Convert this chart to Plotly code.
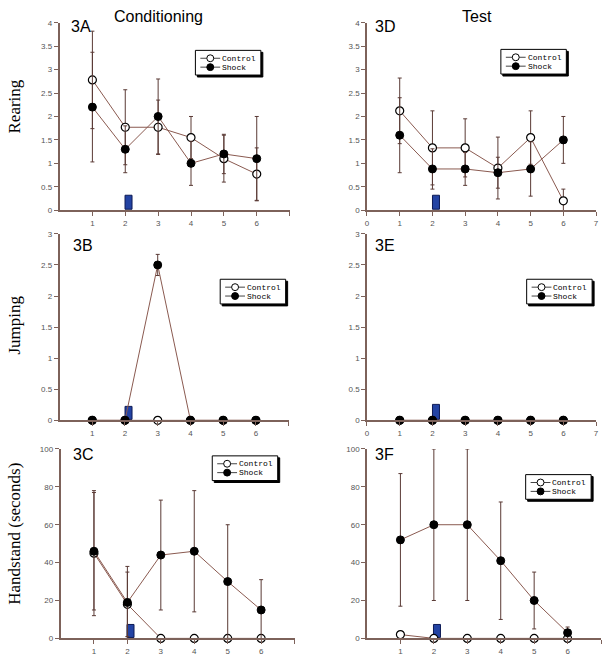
import plotly.graph_objects as go

# ---------------- data ----------------
sessions = [1, 2, 3, 4, 5, 6]

rear_cond_ctrl = [2.78, 1.77, 1.77, 1.55, 1.10, 0.77]
rear_cond_ctrl_err = [1.04, 0.80, 0.58, 0.45, 0.50, 0.56]
rear_cond_shock = [2.20, 1.30, 2.00, 1.00, 1.20, 1.10]
rear_cond_shock_err = [1.17, 0.50, 0.80, 0.47, 0.42, 0.90]

rear_test_ctrl = [2.12, 1.33, 1.33, 0.90, 1.55, 0.20]
rear_test_ctrl_err = [0.70, 0.79, 0.62, 0.66, 0.57, 0.25]
rear_test_shock = [1.60, 0.88, 0.88, 0.80, 0.88, 1.50]
rear_test_shock_err = [0.80, 0.43, 0.35, 0.33, 0.58, 0.50]

jump_cond_ctrl = [0, 0, 0, 0, 0, 0]
jump_cond_ctrl_err = [0, 0, 0, 0, 0, 0]
jump_cond_shock = [0, 0, 2.5, 0, 0, 0]
jump_cond_shock_err = [0, 0, 0.17, 0, 0, 0]

jump_test_ctrl = [0, 0, 0, 0, 0, 0]
jump_test_ctrl_err = [0, 0, 0, 0, 0, 0]
jump_test_shock = [0, 0, 0, 0, 0, 0]
jump_test_shock_err = [0, 0, 0, 0, 0, 0]

hand_cond_ctrl = [45, 18, 0, 0, 0, 0]
hand_cond_ctrl_err = [33, 17, 0, 0, 0, 0]
hand_cond_shock = [46, 19, 44, 46, 30, 15]
hand_cond_shock_err = [31, 19, 29, 32, 30, 16]

hand_test_ctrl = [2, 0, 0, 0, 0, 0]
hand_test_ctrl_err = [0, 0, 0, 0, 0, 0]
hand_test_shock = [52, 60, 60, 41, 20, 3]
hand_test_shock_err = [35, 40, 40, 31, 15, 3]

shock_session = [2.12]
shock_marker_height = {"A": 0.3, "B": 0.22, "C": 7, "D": 0.3, "E": 0.25, "F": 7}

panel_labels = ["3A", "3B", "3C", "3D", "3E", "3F"]
column_titles = ["Conditioning", "Test"]
row_titles = ["Rearing", "Jumping", "Handstand (seconds)"]
legend_labels = ["Control", "Shock"]

rear_ticks = [0, 0.5, 1, 1.5, 2, 2.5, 3, 3.5, 4]
jump_ticks = [0, 0.5, 1, 1.5, 2, 2.5, 3]
hand_ticks = [0, 20, 40, 60, 80, 100]

# ---------------- layout helpers ----------------
W, H = 609, 672


def px(x):
    return x / W


def py(y):
    return 1 - y / H


BROWN = "#8a5a50"
AXIS = "#7d625a"
ERR = "#5a3a35"
TICKFONT = dict(family="Liberation Sans, Arial", size=8, color="#555555")

panels = [
    ("A", rear_cond_ctrl, rear_cond_ctrl_err, rear_cond_shock, rear_cond_shock_err,
     (58, 290), (19, 209), [0, 4], rear_ticks, False),
    ("B", jump_cond_ctrl, jump_cond_ctrl_err, jump_cond_shock, jump_cond_shock_err,
     (58, 289), (233, 422), [0, 3], jump_ticks, False),
    ("C", hand_cond_ctrl, hand_cond_ctrl_err, hand_cond_shock, hand_cond_shock_err,
     (59, 295), (451, 643), [0, 100], hand_ticks, False),
    ("D", rear_test_ctrl, rear_test_ctrl_err, rear_test_shock, rear_test_shock_err,
     (368, 599), (19, 209), [0, 4], rear_ticks, True),
    ("E", jump_test_ctrl, jump_test_ctrl_err, jump_test_shock, jump_test_shock_err,
     (368, 599), (233, 422), [0, 3], jump_ticks, True),
    ("F", hand_test_ctrl, hand_test_ctrl_err, hand_test_shock, hand_test_shock_err,
     (368, 604), (451, 643), [0, 100], hand_ticks, False),
]

legend_boxes = {
    "A": (195, 47), "B": (220, 279), "C": (212, 458),
    "D": (503, 46), "E": (529, 279), "F": (528, 477),
}
label_pos = {
    "A": (68, 23), "B": (70, 245), "C": (70, 457),
    "D": (374, 23), "E": (374, 245), "F": (374, 457),
}

fig = go.Figure()
layout = dict(
    width=W, height=H, margin=dict(l=0, r=0, t=0, b=0),
    paper_bgcolor="white", plot_bgcolor="white", showlegend=False,
    bargap=0,
)
shapes = []
annotations = []

for i, (key, ctrl, cerr, shock, serr, xp, yp, yr, yt, full_x) in enumerate(panels):
    n = i + 1
    xa = "x" if n == 1 else f"x{n}"
    ya = "y" if n == 1 else f"y{n}"
    xname = "xaxis" if n == 1 else f"xaxis{n}"
    yname = "yaxis" if n == 1 else f"yaxis{n}"

    fig.add_trace(go.Bar(
        x=shock_session, y=[shock_marker_height[key]], width=0.21,
        marker=dict(color="#2343a3", line=dict(color="#0d1a55", width=1)),
        xaxis=xa, yaxis=ya, hoverinfo="skip",
    ))
    fig.add_trace(go.Scatter(
        x=sessions, y=ctrl, mode="lines+markers", name=legend_labels[0],
        line=dict(color=BROWN, width=1),
        marker=dict(symbol="circle", size=8, color="white",
                    line=dict(color="black", width=1.2)),
        error_y=dict(type="data", array=cerr, color=ERR, thickness=1, width=2),
        cliponaxis=False, xaxis=xa, yaxis=ya,
    ))
    fig.add_trace(go.Scatter(
        x=sessions, y=shock, mode="lines+markers", name=legend_labels[1],
        line=dict(color=BROWN, width=1),
        marker=dict(symbol="circle", size=8, color="black",
                    line=dict(color="black", width=1)),
        error_y=dict(type="data", array=serr, color=ERR, thickness=1, width=2),
        cliponaxis=False, xaxis=xa, yaxis=ya,
    ))

    if full_x:
        xtv = list(range(0, 8))
        xtt = [str(v) for v in xtv]
    else:
        xtv = list(range(1, 8))
        xtt = [str(v) for v in range(1, 7)] + [""]

    layout[xname] = dict(
        domain=[px(xp[0]), px(xp[1])], anchor=ya, range=[0, 7],
        showgrid=False, zeroline=False, showline=True, linecolor=AXIS, linewidth=1.5,
        ticks="outside", ticklen=4, tickcolor=AXIS, tickwidth=1,
        tickvals=xtv, ticktext=xtt, tickfont=TICKFONT, fixedrange=True,
    )
    layout[yname] = dict(
        domain=[py(yp[1]), py(yp[0])], anchor=xa, range=yr,
        showgrid=False, zeroline=False, showline=True, linecolor=AXIS, linewidth=1.5,
        ticks="outside", ticklen=4, tickcolor=AXIS, tickwidth=1,
        tickvals=yt, ticktext=[("%g" % v) for v in yt], tickfont=TICKFONT,
        fixedrange=True,
    )

    lx, ly = label_pos[key]
    annotations.append(dict(
        text=panel_labels[i], x=px(lx), y=py(ly), xref="paper", yref="paper",
        xanchor="left", yanchor="middle", showarrow=False,
        font=dict(family="Liberation Sans, Arial", size=16, color="black"),
    ))

    # compact boxed legend with drop shadow
    bx, by = legend_boxes[key]
    bw, bh = 66, 25
    shapes.append(dict(type="rect", xref="paper", yref="paper",
                       x0=px(bx + 2), x1=px(bx + bw + 2), y0=py(by + bh + 2), y1=py(by + 2),
                       fillcolor="black", line=dict(color="black", width=1)))
    shapes.append(dict(type="rect", xref="paper", yref="paper",
                       x0=px(bx), x1=px(bx + bw), y0=py(by + bh), y1=py(by),
                       fillcolor="white", line=dict(color="black", width=1)))
    for r, (lab, fill) in enumerate(zip(legend_labels, ["white", "black"])):
        cy = by + 8 + r * 9
        shapes.append(dict(type="line", xref="paper", yref="paper",
                           x0=px(bx + 5), x1=px(bx + 25), y0=py(cy), y1=py(cy),
                           line=dict(color="#444444", width=1)))
        shapes.append(dict(type="circle", xref="paper", yref="paper",
                           x0=px(bx + 11.5), x1=px(bx + 18.5), y0=py(cy + 3.5), y1=py(cy - 3.5),
                           fillcolor=fill, line=dict(color="black", width=1)))
        annotations.append(dict(
            text=lab, x=px(bx + 25), y=py(cy), xref="paper", yref="paper",
            xanchor="left", yanchor="middle", showarrow=False,
            font=dict(family="Liberation Mono, DejaVu Sans Mono", size=8, color="black"),
        ))

for t, cx in zip(column_titles, [158, 479]):
    annotations.append(dict(
        text=t, x=px(cx), y=py(13), xref="paper", yref="paper",
        xanchor="center", yanchor="middle", showarrow=False,
        font=dict(family="Liberation Sans, Arial", size=16, color="black"),
    ))

for t, cy in zip(row_titles, [104, 325, 537]):
    annotations.append(dict(
        text=t, x=px(13), y=py(cy), xref="paper", yref="paper",
        xanchor="center", yanchor="middle", showarrow=False, textangle=-90,
        font=dict(family="Liberation Serif, Times New Roman", size=17, color="black"),
    ))

layout["shapes"] = shapes
layout["annotations"] = annotations
fig.update_layout(**layout)
fig.write_html("out.html")
